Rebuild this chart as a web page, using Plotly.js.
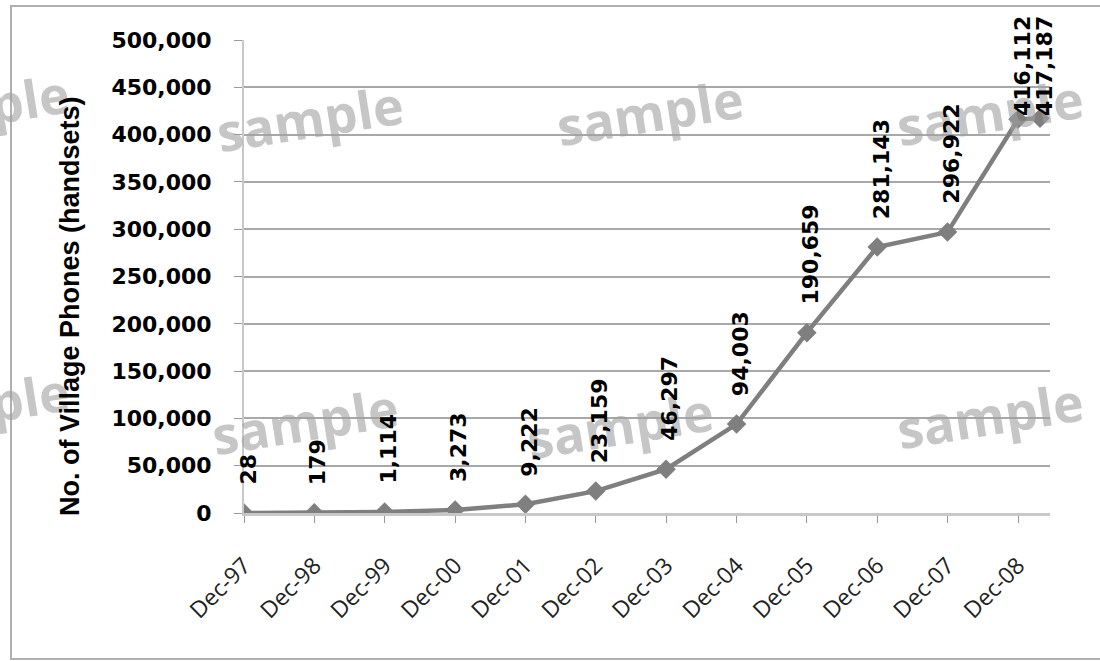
<!DOCTYPE html>
<html><head><meta charset="utf-8">
<script src="https://cdn.plot.ly/plotly-3.0.1.min.js"></script>
<style>html,body{margin:0;padding:0;background:#fff}#chart{width:1100px;height:661px}</style>
</head><body><div id="chart"></div>
<script>
// ---- data ----
const periods = ['1997-12-01','1998-12-01','1999-12-01','2000-12-01','2001-12-01','2002-12-01',
  '2003-12-01','2004-12-01','2005-12-01','2006-12-01','2007-12-01','2008-12-01','2009-03-25'];
const phones = [28, 179, 1114, 3273, 9222, 23159, 46297, 94003, 190659, 281143, 296922, 416112, 417187];
const tickDates = ['1997-12-01','1998-12-01','1999-12-01','2000-12-01','2001-12-01','2002-12-01',
  '2003-12-01','2004-12-01','2005-12-01','2006-12-01','2007-12-01','2008-12-01'];
const tickLabels = ['Dec-97','Dec-98','Dec-99','Dec-00','Dec-01','Dec-02','Dec-03','Dec-04',
  'Dec-05','Dec-06','Dec-07','Dec-08'];
const yTitle = 'No. of Village Phones (handsets)';
const watermark = 'sample';

// ---- layout helpers ----
const M = {l:244, r:50, t:40, b:148};
const W = 1100 - M.l - M.r, H = 661 - M.t - M.b;
const px = x => (x - M.l) / W;
const py = y => (661 - M.b - y) / H;

const lineColor = '#7f7f7f';
const labelFont = {family:'DejaVu Sans', size:22, color:'#000', weight:'bold'};

const annotations = [];
// watermarks
[[310,118],[650,112],[990,112],[-24,106],[305,420],[620,424],[990,414],[-24,404]].forEach(p=>{
  annotations.push({xref:'paper', yref:'paper', x:px(p[0]), y:py(p[1]), text:watermark,
    showarrow:false, textangle:-9, xanchor:'center', yanchor:'middle',
    font:{family:'Open Sans', size:52, weight:'bold', color:'rgba(160,160,160,0.6)'}});
});
// data labels
const topLimit = py(14);
phones.forEach((v,i)=>{
  const a = {x:periods[i], y:v, xref:'x', yref:'y', text:v.toLocaleString('en-US'),
    showarrow:false, textangle:-90, xanchor:'center', yanchor:'bottom', yshift:26, xshift:4,
    font:labelFont};
  if (v > 400000) { a.yref = 'paper'; a.y = topLimit; a.yanchor = 'top'; a.yshift = 0; }
  annotations.push(a);
});
// y axis title
annotations.push({xref:'paper', yref:'paper', x:px(70), y:py(306), text:yTitle, showarrow:false,
  textangle:-90, xanchor:'center', yanchor:'middle',
  font:{family:'Liberation Sans', size:27, weight:'bold', color:'#000'}});

const trace = {x:periods, y:phones, type:'scatter', mode:'lines+markers',
  line:{color:lineColor, width:4.5},
  marker:{symbol:'diamond', size:15, color:lineColor},
  hoverinfo:'x+y'};

const layout = {
  width:1100, height:661, margin:M, paper_bgcolor:'#fff', plot_bgcolor:'#fff', showlegend:false,
  xaxis:{type:'date', range:['1997-12-01','2009-05-16'], tickvals:tickDates, ticktext:tickLabels,
    tickangle:-45, ticks:'outside', ticklen:7, tickcolor:'#999', tickwidth:1,
    showgrid:false, zeroline:false, showline:true, linecolor:'#c8c8c8', linewidth:3,
    ticklabelstandoff:20,
    tickfont:{family:'Open Sans', size:23, color:'#222'}},
  yaxis:{range:[0,500000], dtick:50000, tickformat:',d', ticks:'outside', ticklen:8,
    tickcolor:'#999', showgrid:true, gridcolor:'#a8a8a8', gridwidth:2, zeroline:false,
    showline:true, linecolor:'#c8c8c8', linewidth:2, ticklabelstandoff:18,
    tickfont:{family:'DejaVu Sans', size:22, color:'#000', weight:'bold'}},
  annotations:annotations,
  shapes:[{type:'rect', xref:'paper', yref:'paper', x0:px(11), x1:px(1110), y0:py(659), y1:py(6),
    line:{color:'#b0b0b0', width:2}, fillcolor:'rgba(0,0,0,0)', layer:'below'}]
};
Plotly.newPlot('chart', [trace], layout, {displayModeBar:false, staticPlot:true});
</script></body></html>
